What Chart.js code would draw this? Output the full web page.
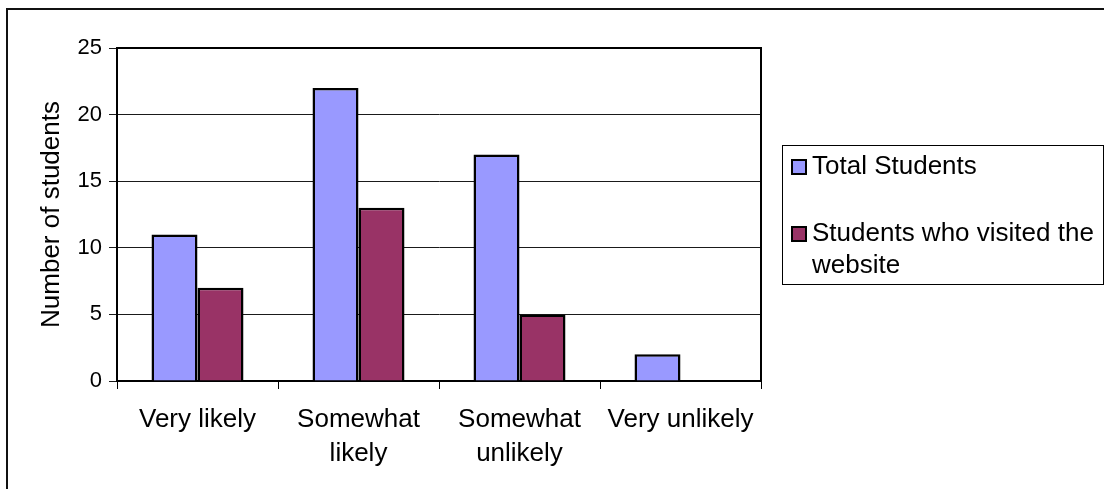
<!DOCTYPE html>
<html>
<head>
<meta charset="utf-8">
<script src="https://cdn.jsdelivr.net/npm/chart.js@4/dist/chart.umd.min.js"></script>
<style>
  html, body { margin: 0; padding: 0; background: #fff; }
  #wrap { width: 1104px; height: 489px; }
</style>
</head>
<body>
<div id="wrap"><canvas id="c" width="1104" height="489"></canvas></div>
<script>
// Survey answers and counts
const categories = [['Very likely'], ['Somewhat', 'likely'], ['Somewhat', 'unlikely'], ['Very unlikely']];
const totalStudents = [11, 22, 17, 2];
const visitedStudents = [7, 13, 5, 0];
const seriesNames = ['Total Students', 'Students who visited the website'];
const yTicks = [0, 5, 10, 15, 20, 25];

const FONT = '"Liberation Sans", Arial, sans-serif';

// Frame lines around the whole figure and around the plot area
const framePlugin = {
  id: 'frame',
  beforeDraw(chart) {
    const ctx = chart.ctx;
    ctx.save();
    ctx.fillStyle = '#fff';
    ctx.fillRect(0, 0, chart.width, chart.height);
    ctx.fillStyle = '#111';
    ctx.fillRect(6, 8, chart.width, 2);
    ctx.fillRect(6, 8, 2, chart.height);
    ctx.restore();
  },
  afterDatasetsDraw(chart) {
    const { ctx, chartArea: a } = chart;
    ctx.save();
    ctx.strokeStyle = '#000';
    ctx.lineWidth = 2;
    ctx.beginPath();
    ctx.moveTo(a.left, a.top);
    ctx.lineTo(a.right, a.top);
    ctx.lineTo(a.right, a.bottom);
    ctx.stroke();
    ctx.restore();
  }
};

// Boxed legend to the right of the plot, with wrapped series names
const boxLegendPlugin = {
  id: 'boxLegend',
  afterDraw(chart) {
    const ctx = chart.ctx;
    const box = { x: 782, y: 145, w: 321, h: 139 };
    const itemY = [167, 234];
    const lineH = 32;
    ctx.save();
    ctx.strokeStyle = '#000';
    ctx.lineWidth = 1;
    ctx.strokeRect(box.x + 0.5, box.y + 0.5, box.w, box.h);
    ctx.font = '26px ' + FONT;
    ctx.textBaseline = 'middle';
    ctx.textAlign = 'left';
    chart.data.datasets.forEach((ds, i) => {
      const cy = itemY[i];
      ctx.fillStyle = ds.backgroundColor;
      ctx.fillRect(792, cy - 7, 14, 14);
      ctx.lineWidth = 2;
      ctx.strokeStyle = '#000';
      ctx.strokeRect(792, cy - 7, 14, 14);
      // word wrap
      const maxW = 290;
      const words = ds.label.split(' ');
      const lines = [];
      let cur = '';
      words.forEach(w => {
        const t = cur ? cur + ' ' + w : w;
        if (ctx.measureText(t).width > maxW && cur) { lines.push(cur); cur = w; }
        else cur = t;
      });
      if (cur) lines.push(cur);
      ctx.fillStyle = '#000';
      lines.forEach((ln, k) => ctx.fillText(ln, 812, cy + k * lineH));
    });
    ctx.restore();
  }
};

new Chart(document.getElementById('c'), {
  type: 'bar',
  data: {
    labels: categories,
    datasets: [
      { label: seriesNames[0], data: totalStudents, backgroundColor: '#9999ff', borderColor: '#000', borderWidth: 2.5 },
      { label: seriesNames[1], data: visitedStudents, backgroundColor: '#993366', borderColor: '#000', borderWidth: 2.5 }
    ]
  },
  options: {
    responsive: false,
    animation: false,
    devicePixelRatio: 1,
    layout: { padding: { left: 0, top: 48, right: 343, bottom: 0 } },
    datasets: { bar: { categoryPercentage: 2 / 3.5, barPercentage: 1, borderSkipped: 'start' } },
    plugins: {
      legend: { display: false },
      tooltip: { enabled: false }
    },
    scales: {
      x: {
        afterFit(scale) { scale.height = 108; },
        grid: { offset: true, drawOnChartArea: false, drawTicks: true, tickLength: 8, color: '#000', lineWidth: 1 },
        border: { display: true, color: '#000', width: 2 },
        ticks: {
          color: '#000',
          font: { family: FONT, size: 26, lineHeight: 1.3 },
          padding: 14,
          maxRotation: 0,
          autoSkip: false
        }
      },
      y: {
        min: 0,
        max: 25,
        afterFit(scale) { scale.width = 117; },
        afterBuildTicks(scale) { scale.ticks = yTicks.map(v => ({ value: v })); },
        grid: { color: '#1a1a1a', lineWidth: 1, tickLength: 8, drawTicks: true },
        border: { display: true, color: '#000', width: 2 },
        ticks: {
          color: '#000',
          font: { family: FONT, size: 22 },
          padding: 7
        },
        title: {
          display: true,
          text: 'Number of students',
          color: '#000',
          font: { family: FONT, size: 26 },
          padding: { top: 36, bottom: 0 }
        }
      }
    }
  },
  plugins: [framePlugin, boxLegendPlugin]
});
</script>
</body>
</html>
